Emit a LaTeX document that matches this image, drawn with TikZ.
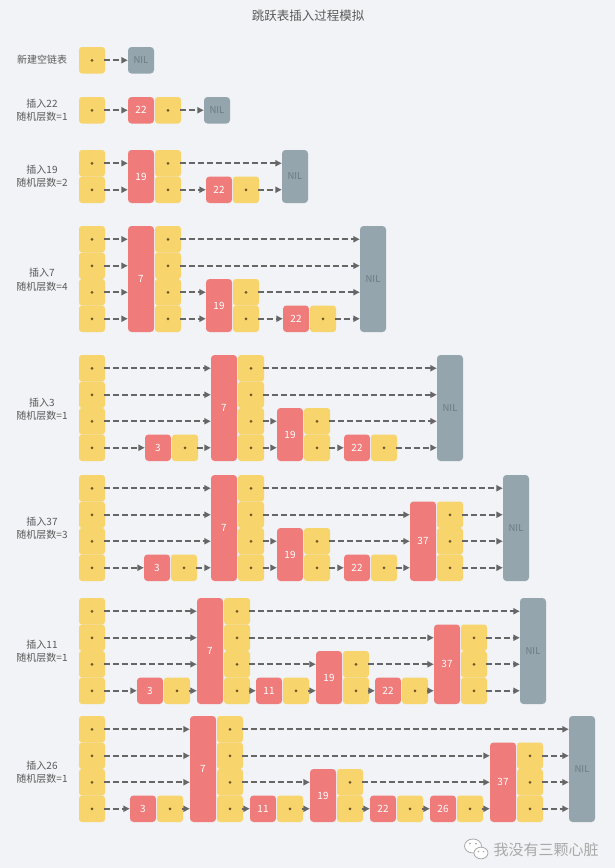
\documentclass[tikz,border=0pt]{standalone}
\usepackage{fontspec}
\setmainfont{Noto Sans CJK SC}
\usetikzlibrary{arrows.meta}
\definecolor{bg}{HTML}{F1F3F6}
\definecolor{yel}{HTML}{F8D46C}
\definecolor{redc}{HTML}{EF7B7B}
\definecolor{nilc}{HTML}{95A5AD}
\definecolor{nilt}{HTML}{6A7B83}
\definecolor{dotc}{HTML}{6E5328}
\definecolor{arrc}{HTML}{666666}
\definecolor{txt}{HTML}{595959}
\definecolor{wm}{HTML}{A9A9A9}
\tikzset{
  ycell/.style={rectangle, fill=yel, rounded corners=3pt, minimum width=26pt, minimum height=26.5pt, inner sep=0pt,
    path picture={\fill[dotc] (path picture bounding box.center) circle (1.5pt);}},
  rcell/.style={rectangle, fill=redc, rounded corners=3.5pt, minimum width=26pt, inner sep=0pt, text=white, font=\fontsize{10}{12}\selectfont},
  nilcell/.style={rectangle, fill=nilc, rounded corners=3.5pt, minimum width=26pt, inner sep=0pt, text=nilt, font=\fontsize{9.5}{12}\selectfont},
  arr/.style={draw=arrc, line width=1.7pt, dash pattern=on 6pt off 3pt, -{Triangle[length=6.5pt,width=6pt]}},
  lab/.style={text=txt, align=center, font=\fontsize{10}{13.5}\selectfont, inner sep=0pt},
  ttl/.style={text=txt, font=\fontsize{12.5}{14}\selectfont, inner sep=0pt}
}
\newcommand\ycol[5]{%
  \foreach \j in {1,...,#5}{%
    \node[ycell] (#1-\j) at ({#2+13},{#3+(#4-\j+0.5)*26.5}) {};
  }}
\newcommand\rnode[6]{%
  \node[rcell, minimum height={#5*26.5pt}] (#1) at ({#2+13},{#3+(#4-#5/2)*26.5}) {#6};}
\newcommand\nilnode[4]{%
  \node[nilcell, minimum height={#4*26.5pt}] (#1) at ({#2+13},{#3+#4*26.5/2}) {NIL};}
\newcommand\arr[2]{\draw[arr] ([xshift=11.5pt]#1.center) -- (#2.west |- #1.center);}
\begin{document}
\begin{tikzpicture}[x=1pt,y=-1pt]
\useasboundingbox (0,0) rectangle (615,868);
\fill[bg] (0,0) rectangle (615,868);
\node[ttl] (title) at (308,16) {跳跃表插入过程模拟};

% Row 1
\node[lab] (l1) at (42,60) {新建空链表};
\ycol{a}{79}{47}{1}{1}
\nilnode{aN}{128}{47}{1}
\arr{a-1}{aN}

% Row 2
\node[lab] (l2) at (42,110) {插入22\\随机层数=1};
\ycol{b}{79}{97}{1}{1}
\rnode{b22}{128}{97}{1}{1}{22}
\ycol{b22y}{155}{97}{1}{1}
\nilnode{bN}{204}{97}{1}
\arr{b-1}{b22}
\arr{b22y-1}{bN}

% Row 3
\node[lab] (l3) at (42,176) {插入19\\随机层数=2};
\ycol{c}{79}{150}{2}{2}
\rnode{c19}{128}{150}{2}{2}{19}
\ycol{c19y}{155}{150}{2}{2}
\rnode{c22}{206}{150}{2}{1}{22}
\ycol{c22y}{233}{150}{2}{1}
\nilnode{cN}{282}{150}{2}
\arr{c-2}{c19}\arr{c19y-2}{cN}
\arr{c-1}{c19}\arr{c19y-1}{c22}\arr{c22y-1}{cN}

% Row 4
\node[lab] (l4) at (42,279.5) {插入7\\随机层数=4};
\ycol{d}{79}{226}{4}{4}
\rnode{d7}{128}{226}{4}{4}{7}
\ycol{d7y}{155}{226}{4}{4}
\rnode{d19}{206}{226}{4}{2}{19}
\ycol{d19y}{233}{226}{4}{2}
\rnode{d22}{283}{226}{4}{1}{22}
\ycol{d22y}{310}{226}{4}{1}
\nilnode{dN}{360}{226}{4}
\arr{d-4}{d7}\arr{d7y-4}{dN}
\arr{d-3}{d7}\arr{d7y-3}{dN}
\arr{d-2}{d7}\arr{d7y-2}{d19}\arr{d19y-2}{dN}
\arr{d-1}{d7}\arr{d7y-1}{d19}\arr{d19y-1}{d22}\arr{d22y-1}{dN}

% Row 5
\node[lab] (l5) at (42,409) {插入3\\随机层数=1};
\ycol{e}{79}{355}{4}{4}
\rnode{e3}{145}{355}{4}{1}{3}
\ycol{e3y}{172}{355}{4}{1}
\rnode{e7}{211}{355}{4}{4}{7}
\ycol{e7y}{238}{355}{4}{4}
\rnode{e19}{277}{355}{4}{2}{19}
\ycol{e19y}{304}{355}{4}{2}
\rnode{e22}{344}{355}{4}{1}{22}
\ycol{e22y}{371}{355}{4}{1}
\nilnode{eN}{437}{355}{4}
\arr{e-4}{e7}\arr{e7y-4}{eN}
\arr{e-3}{e7}\arr{e7y-3}{eN}
\arr{e-2}{e7}\arr{e7y-2}{e19}\arr{e19y-2}{eN}
\arr{e-1}{e3}\arr{e3y-1}{e7}\arr{e7y-1}{e19}\arr{e19y-1}{e22}\arr{e22y-1}{eN}

% Row 6
\node[lab] (l6) at (42,528) {插入37\\随机层数=3};
\ycol{f}{79}{475}{4}{4}
\rnode{f3}{144}{475}{4}{1}{3}
\ycol{f3y}{171}{475}{4}{1}
\rnode{f7}{211}{475}{4}{4}{7}
\ycol{f7y}{238}{475}{4}{4}
\rnode{f19}{277}{475}{4}{2}{19}
\ycol{f19y}{304}{475}{4}{2}
\rnode{f22}{344}{475}{4}{1}{22}
\ycol{f22y}{371}{475}{4}{1}
\rnode{f37}{410}{475}{4}{3}{37}
\ycol{f37y}{437}{475}{4}{3}
\nilnode{fN}{503}{475}{4}
\arr{f-4}{f7}\arr{f7y-4}{fN}
\arr{f-3}{f7}\arr{f7y-3}{f37}\arr{f37y-3}{fN}
\arr{f-2}{f7}\arr{f7y-2}{f19}\arr{f19y-2}{f37}\arr{f37y-2}{fN}
\arr{f-1}{f3}\arr{f3y-1}{f7}\arr{f7y-1}{f19}\arr{f19y-1}{f22}\arr{f22y-1}{f37}\arr{f37y-1}{fN}

% Row 7
\node[lab] (l7) at (42,651) {插入11\\随机层数=1};
\ycol{g}{79}{598}{4}{4}
\rnode{g3}{137}{598}{4}{1}{3}
\ycol{g3y}{164}{598}{4}{1}
\rnode{g7}{197}{598}{4}{4}{7}
\ycol{g7y}{224}{598}{4}{4}
\rnode{g11}{256}{598}{4}{1}{11}
\ycol{g11y}{283}{598}{4}{1}
\rnode{g19}{316}{598}{4}{2}{19}
\ycol{g19y}{343}{598}{4}{2}
\rnode{g22}{375}{598}{4}{1}{22}
\ycol{g22y}{402}{598}{4}{1}
\rnode{g37}{434}{598}{4}{3}{37}
\ycol{g37y}{461}{598}{4}{3}
\nilnode{gN}{520}{598}{4}
\arr{g-4}{g7}\arr{g7y-4}{gN}
\arr{g-3}{g7}\arr{g7y-3}{g37}\arr{g37y-3}{gN}
\arr{g-2}{g7}\arr{g7y-2}{g19}\arr{g19y-2}{g37}\arr{g37y-2}{gN}
\arr{g-1}{g3}\arr{g3y-1}{g7}\arr{g7y-1}{g11}\arr{g11y-1}{g19}\arr{g19y-1}{g22}\arr{g22y-1}{g37}\arr{g37y-1}{gN}

% Row 8
\node[lab] (l8) at (42,772) {插入26\\随机层数=1};
\ycol{h}{79}{716}{4}{4}
\rnode{h3}{130}{716}{4}{1}{3}
\ycol{h3y}{157}{716}{4}{1}
\rnode{h7}{190}{716}{4}{4}{7}
\ycol{h7y}{217}{716}{4}{4}
\rnode{h11}{250}{716}{4}{1}{11}
\ycol{h11y}{277}{716}{4}{1}
\rnode{h19}{310}{716}{4}{2}{19}
\ycol{h19y}{337}{716}{4}{2}
\rnode{h22}{370}{716}{4}{1}{22}
\ycol{h22y}{397}{716}{4}{1}
\rnode{h26}{430}{716}{4}{1}{26}
\ycol{h26y}{457}{716}{4}{1}
\rnode{h37}{490}{716}{4}{3}{37}
\ycol{h37y}{517}{716}{4}{3}
\nilnode{hN}{569}{716}{4}
\arr{h-4}{h7}\arr{h7y-4}{hN}
\arr{h-3}{h7}\arr{h7y-3}{h37}\arr{h37y-3}{hN}
\arr{h-2}{h7}\arr{h7y-2}{h19}\arr{h19y-2}{h37}\arr{h37y-2}{hN}
\arr{h-1}{h3}\arr{h3y-1}{h7}\arr{h7y-1}{h11}\arr{h11y-1}{h19}\arr{h19y-1}{h22}\arr{h22y-1}{h26}\arr{h26y-1}{h37}\arr{h37y-1}{hN}

% watermark
\filldraw[fill=white, draw=wm, line width=0.8pt] (473,846) ellipse (8.5pt and 7pt);
\filldraw[fill=white, draw=wm, line width=0.8pt] (481,853) ellipse (7pt and 5.8pt);
\fill[wm] (470,843.5) circle (1pt) (476,843.5) circle (1pt) (478.5,851.5) circle (0.8pt) (483.5,851.5) circle (0.8pt);
\node[text=wm, font=\fontsize{15}{16}\selectfont, inner sep=0pt] (wmtext) at (546,850) {我没有三颗心脏};
\end{tikzpicture}
\end{document}
